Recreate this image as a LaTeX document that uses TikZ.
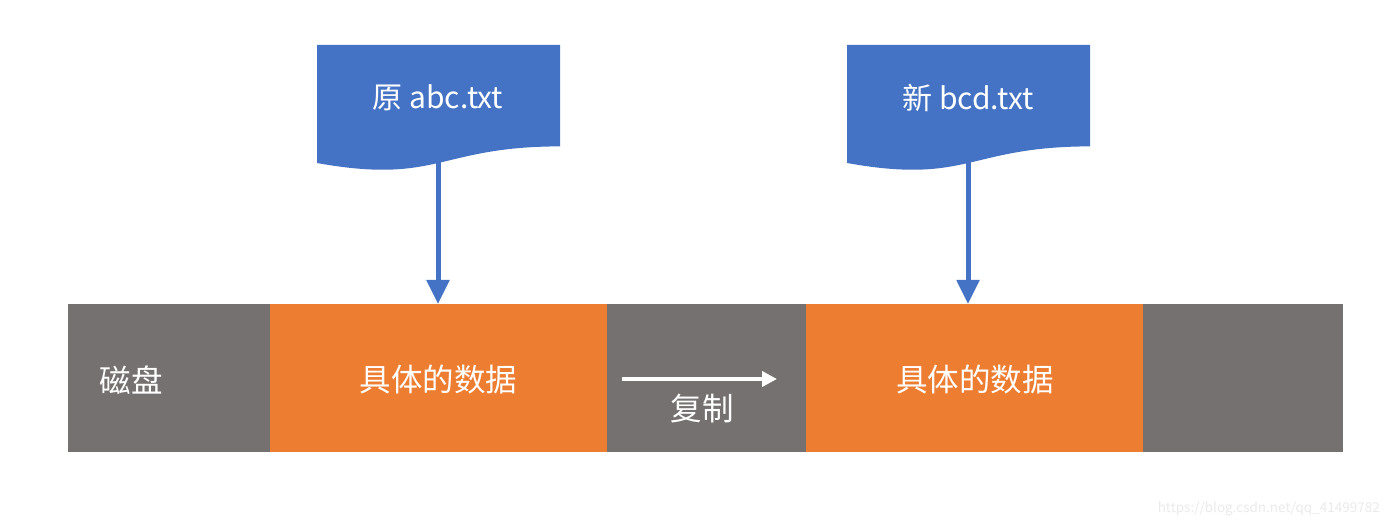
\documentclass[tikz,border=0pt]{standalone}
\usepackage{fontspec}
\setmainfont{Noto Sans CJK SC}
\usetikzlibrary{arrows.meta}
\definecolor{docblue}{HTML}{4472C4}
\definecolor{dataorange}{HTML}{ED7D31}
\definecolor{diskgray}{HTML}{767171}
\definecolor{wmgray}{HTML}{EBEBEB}
\tikzset{
  seg/.style={draw=none, minimum height=148pt, inner sep=0pt, anchor=north west},
  graypart/.style={seg, fill=diskgray},
  orangepart/.style={seg, fill=dataorange},
  lbl/.style={text=white, font=\fontsize{31.5}{36}\selectfont, inner sep=0pt},
  doclbl/.style={text=white, font=\fontsize{30}{36}\selectfont, inner sep=0pt},
  docshape/.style={fill=docblue, draw=none},
  downarrow/.style={draw=docblue, line width=5pt, -{Triangle[width=22pt,length=24pt]}},
  copyarrow/.style={draw=white, line width=4pt, -{Triangle[width=15pt,length=15pt]}}
}
\begin{document}
\begin{tikzpicture}[x=1pt, y=-1pt]
\useasboundingbox (0,0) rectangle (1400,529);
\fill[white] (0,0) rectangle (1400,529);
% disk bar
\node[graypart, minimum width=202pt] (g1) at (68,304) {};
\node[orangepart, minimum width=337pt] (o1) at (270,304) {};
\node[graypart, minimum width=199pt] (g2) at (607,304) {};
\node[orangepart, minimum width=337pt] (o2) at (806,304) {};
\node[graypart, minimum width=200pt] (g3) at (1143,304) {};
% labels
\node[lbl] (disk) at (131,380) {磁盘};
\node[lbl] (data1) at (438.5,380) {具体的数据};
\node[lbl] (data2) at (975,380) {具体的数据};
\node[lbl] (copy) at (702,409) {复制};
\coordinate (cs) at (622,379);
\coordinate (ce) at (777,379);
\draw[copyarrow] (cs) -- (ce);
% documents (flowchart document shape)
\fill[docshape] (317,45) -- (560,45) -- (560,146.4)
  .. controls (438.5,146.4) and (438.5,184.9) .. (317,163) -- cycle;
\fill[docshape] (847,45) -- (1090,45) -- (1090,146.4)
  .. controls (968.5,146.4) and (968.5,184.9) .. (847,163) -- cycle;
\node[doclbl] (doc1) at (438,98) {原 abc.txt};
\node[doclbl] (doc2) at (968,98) {新 bcd.txt};
\coordinate (d1b) at (438,160);
\coordinate (d2b) at (968,160);
\draw[downarrow] (d1b) -- (d1b |- o1.north);
\draw[downarrow] (d2b) -- (d2b |- o2.north);
% watermark
\node[text=wmgray, font=\fontsize{13.5}{16}\selectfont, inner sep=0pt, anchor=east] (wm) at (1380,509) {https://blog.csdn.net/qq\_41499782};
\end{tikzpicture}
\end{document}
